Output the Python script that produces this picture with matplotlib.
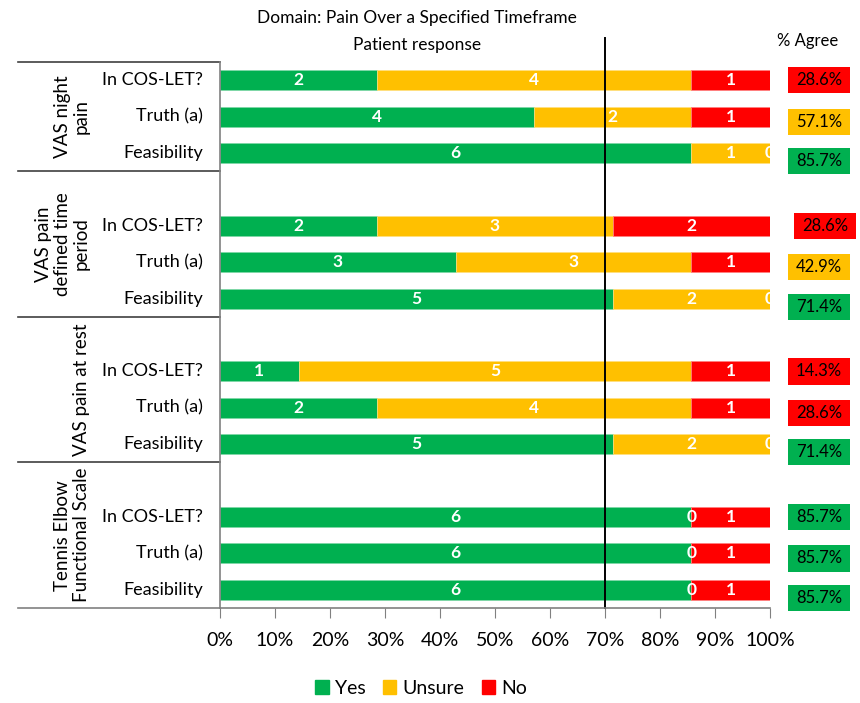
import numpy as np
import matplotlib.pyplot as plt
from matplotlib.patches import Patch, Rectangle
import matplotlib.transforms as mtransforms

plt.rcParams['font.family'] = ['Lato', 'DejaVu Sans']

# data
groups = ["VAS night\npain", "VAS pain\ndefined time\nperiod", "VAS pain at rest",
          "Tennis Elbow\nFunctional Scale"]
questions = ["In COS-LET?", "Truth (a)", "Feasibility"]
yes = [2, 4, 6, 2, 3, 5, 1, 2, 5, 6, 6, 6]
unsure = [4, 2, 1, 3, 3, 2, 5, 4, 2, 0, 0, 0]
no = [1, 1, 0, 2, 1, 0, 1, 1, 0, 1, 1, 1]
threshold = 0.70

GREEN = "#00B050"
YELLOW = "#FFC000"
RED = "#FF0000"

yes = np.array(yes, float)
unsure = np.array(unsure, float)
no = np.array(no, float)
total = yes + unsure + no
p_yes, p_uns, p_no = yes / total, unsure / total, no / total

# slot positions: each group after the first gets an empty slot on top
slots = []
for g in range(len(groups)):
    start = 0 if g == 0 else 3 + 4 * (g - 1) + 1
    slots += [start + r for r in range(3)]
slots = np.array(slots)
bounds = [-0.5, 2.5, 6.5, 10.5, 14.5]

fig = plt.figure(figsize=(8.6, 7.03), dpi=100)
ax = fig.add_axes([220 / 860, 1 - 608 / 703, 550 / 860, 546 / 703])

h = 0.55
ax.barh(slots, p_yes, height=h, color=GREEN, edgecolor="#7fd8a7", linewidth=0.5)
ax.barh(slots, p_uns, left=p_yes, height=h, color=YELLOW, edgecolor="#ffe080", linewidth=0.5)
ax.barh(slots, p_no, left=p_yes + p_uns, height=h, color=RED, edgecolor="#ff8080", linewidth=0.5)

lab = dict(color="white", fontsize=12.5, fontweight="bold", ha="center", va="center", clip_on=True)
for i, s in enumerate(slots):
    ax.text(p_yes[i] / 2, s, f"{int(yes[i])}", **lab)
    ax.text(p_yes[i] + p_uns[i] / 2, s, f"{int(unsure[i])}", **lab)
    ax.text(p_yes[i] + p_uns[i] + p_no[i] / 2, s, f"{int(no[i])}", **lab)

ax.set_xlim(0, 1)
ax.set_ylim(14.5, -0.5)
ax.set_xticks(np.arange(0, 1.01, 0.1))
ax.set_xticklabels([f"{int(round(v * 100))}%" for v in np.arange(0, 1.01, 0.1)], fontsize=14)
ax.tick_params(axis="x", length=7, color="#808080", pad=10)
ax.set_yticks([])
for side in ["top", "right"]:
    ax.spines[side].set_visible(False)
ax.spines["left"].set_color("#808080")
ax.spines["bottom"].set_color("#808080")
ax.spines["left"].set_linewidth(1.2)
ax.spines["bottom"].set_linewidth(1.2)

# 70% threshold line
ax.plot([threshold, threshold], [0, 1.044], color="black", lw=1.4,
        transform=mtransforms.blended_transform_factory(ax.transData, ax.transAxes), clip_on=False)

# left-hand table
tr = mtransforms.blended_transform_factory(ax.transAxes, ax.transData)
left_x = -(220 - 18) / 550
for b in bounds[:-1]:
    ax.plot([left_x, 0], [b, b], color="#404040", lw=1.2, transform=tr, clip_on=False)
ax.plot([left_x, 0], [bounds[-1], bounds[-1]], color="#808080", lw=1.2, transform=tr, clip_on=False)

for i, s in enumerate(slots):
    ax.text(-17 / 550, s, questions[i % 3], transform=tr, ha="right", va="center", fontsize=13)
for g, name in enumerate(groups):
    ax.text(-130 / 550, (bounds[g] + bounds[g + 1]) / 2, name, transform=tr, rotation=90,
            ha="right", va="center", multialignment="center", fontsize=13.5, linespacing=1.15)

# % agree boxes
box_off = [0.0, 0.14, 0.22]
bx, bw, bh = (788 - 220) / 550, 62 / 550, 0.72
for i, s in enumerate(slots):
    p = p_yes[i]
    c = GREEN if p >= threshold else (YELLOW if p >= 0.4 else RED)
    dx = 6 / 550 if i in (3,) else 0
    yc = s + box_off[i % 3]
    ax.add_patch(Rectangle((bx + dx, yc - bh / 2), bw, bh, facecolor=c, edgecolor="none",
                           transform=tr, clip_on=False))
    ax.text(bx + dx + bw / 2, yc, f"{p * 100:.1f}%", transform=tr, ha="center", va="center",
            fontsize=12)
fig.text(808 / 860, 1 - 41 / 703, "% Agree", ha="center", va="center", fontsize=12)

fig.text(417 / 860, 1 - 18 / 703, "Domain: Pain Over a Specified Timeframe", ha="center",
         va="center", fontsize=12.5)
fig.text(417 / 860, 1 - 45 / 703, "Patient response", ha="center", va="center", fontsize=12.5)

handles = [Patch(color=GREEN, label="Yes"), Patch(color=YELLOW, label="Unsure"),
           Patch(color=RED, label="No")]
fig.legend(handles=handles, loc="center", bbox_to_anchor=(421 / 860, 1 - 688 / 703), ncol=3,
           frameon=False, fontsize=14, handlelength=0.7, handleheight=0.7,
           handletextpad=0.3, columnspacing=0.9)

fig.savefig("out.png", dpi=100)
